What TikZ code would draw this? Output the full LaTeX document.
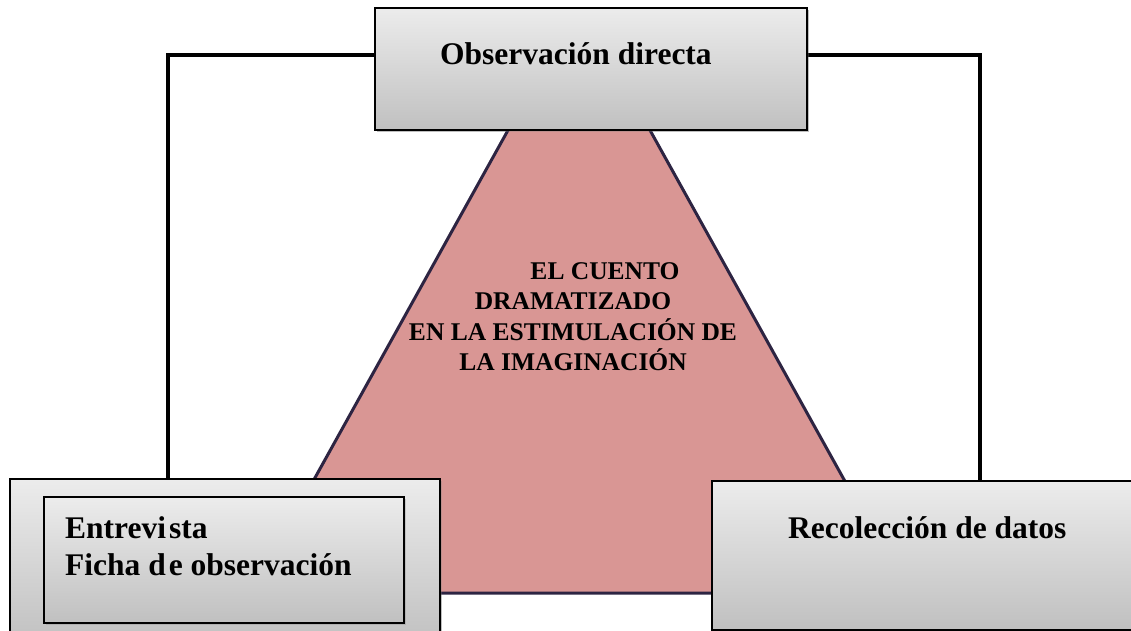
\documentclass[tikz,border=0pt]{standalone}
\usepackage{fontspec}
\setmainfont{Liberation Serif}
\usepackage{xcolor}
\usetikzlibrary{shadows}

\definecolor{trifill}{RGB}{217,150,148}
\definecolor{triline}{RGB}{45,36,66}
\definecolor{boxtop}{RGB}{236,236,236}
\definecolor{boxbot}{RGB}{192,192,192}

\begin{document}
\begin{tikzpicture}[x=1pt,y=1pt,yscale=-1,xscale=1,
  graybox/.style={draw=black, line width=1.5pt, top color=boxtop, bottom color=boxbot, inner sep=0pt,
    drop shadow={opacity=0.3, shadow xshift=2pt, shadow yshift=-2pt}},
  link/.style={draw=black, line width=4pt},
  lbl/.style={inner sep=0pt, font=\fontsize{31.5}{37}\selectfont\bfseries},
  ttl/.style={inner sep=0pt, font=\fontsize{25.5}{30.5}\selectfont\bfseries}]

\useasboundingbox (0,0) rectangle (1131,631);

\coordinate (lt) at (168,55);
\coordinate (rt) at (980,55);

\node[graybox, minimum width=432, minimum height=122] (obs) at (591,69) {};
\node[graybox, minimum width=430, minimum height=166] (ent) at (225,562) {};
\node[graybox, minimum width=433, minimum height=149] (rec) at (928.5,555.5) {};

\draw[link] (obs.west |- lt) -| (ent.north -| lt);
\draw[link] (obs.east |- rt) -| (rec.north -| rt);

\draw [fill=trifill, draw=triline, line width=3pt, line join=round] (547,60) -- (611,60) -- (907,593) -- (251,593) -- cycle;

\node[graybox, minimum width=432, minimum height=122] at (obs) {};
\node[graybox, minimum width=430, minimum height=166] at (ent) {};
\node[graybox, minimum width=360, minimum height=126] (fichas) at (224,560) {};
\node[graybox, minimum width=433, minimum height=149] at (rec) {};

\node[lbl, anchor=base west] (obst) at (440,65) {Observación directa};
\node[lbl, anchor=base west, align=left] (fichast) at (65,575) {Entrevi\kern3pt sta\\Ficha d\kern3pt e observación};
\node[lbl, anchor=base west] (rect) at (788,538) {Recolección de datos};
\node[ttl, anchor=base, align=center] (tema) at (573,370.5) {\hspace*{64pt}EL CUENTO\\DRAMATIZADO\\EN LA ESTIMULACIÓN DE\\LA IMAGINACIÓN};

\end{tikzpicture}
\end{document}
